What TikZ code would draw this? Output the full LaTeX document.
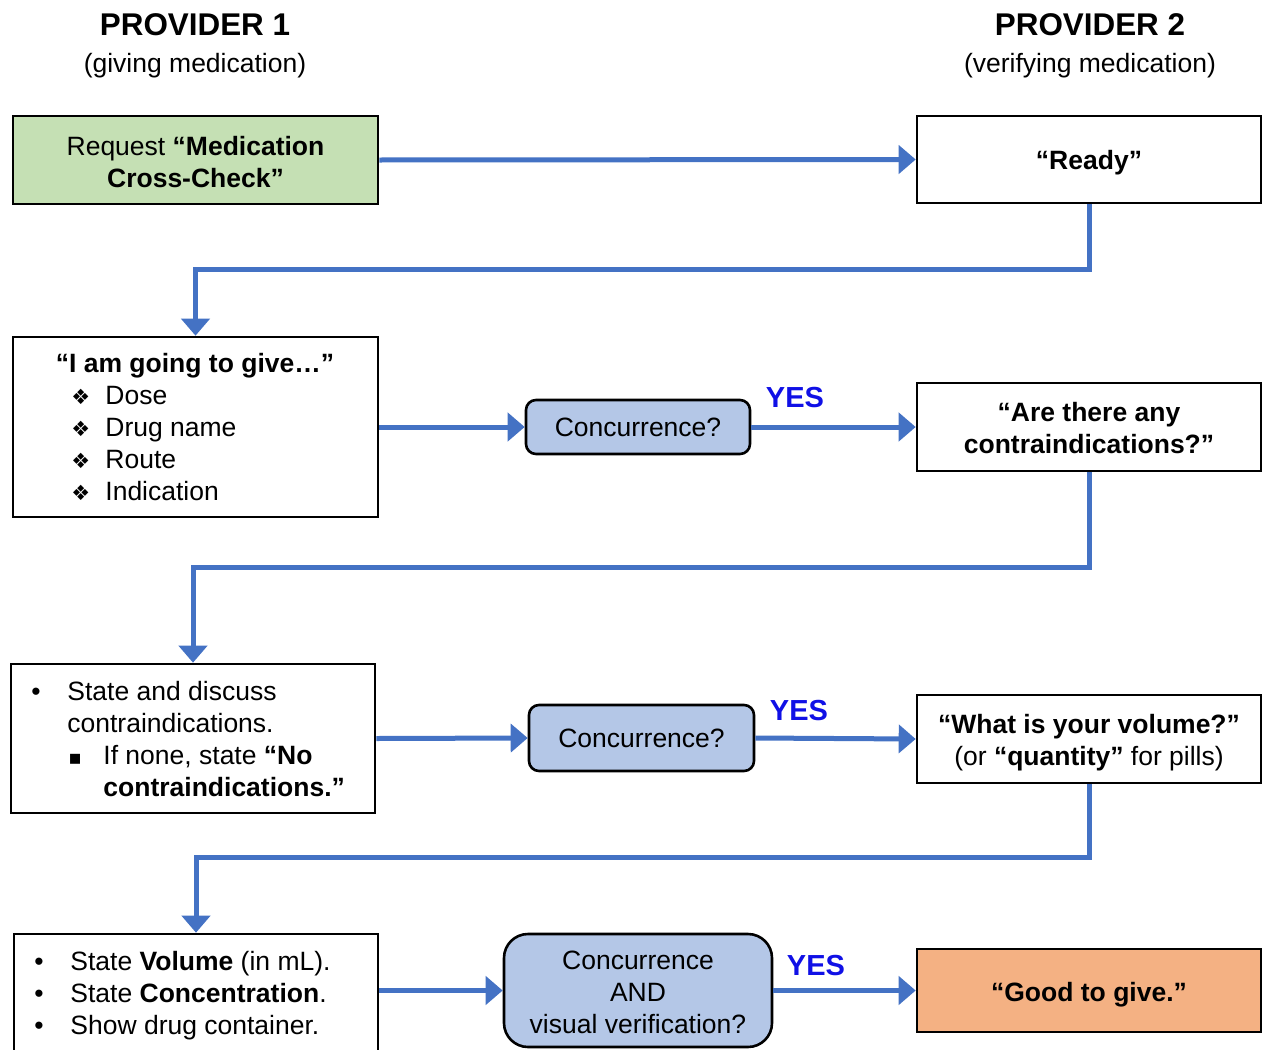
\documentclass[tikz,border=0pt]{standalone}
\usepackage{fontspec}
\setmainfont{Liberation Sans}
\newfontfamily\symbolFont{DejaVu Sans}
\usetikzlibrary{positioning,fit,arrows.meta}
\definecolor{arrowBlue}{RGB}{68,114,196}
\definecolor{requestGreen}{RGB}{197,224,180}
\definecolor{questionBlue}{RGB}{180,199,231}
\definecolor{giveOrange}{RGB}{244,177,131}
\definecolor{yesBlue}{RGB}{16,16,230}
\newcommand{\bodyFont}{\fontsize{13.25}{16}\selectfont}
\newcommand{\diamondBullet}{{\symbolFont\fontsize{10.5}{16}\selectfont ❖}}
\newcommand{\squareBullet}{{\symbolFont\fontsize{10}{16}\selectfont ▪}}
\tikzstyle{flowchart} = [x = .5pt, y = -.5pt]
\tikzstyle{plainBox} = [draw=black, line width=1.3pt, inner sep=0pt]
\tikzstyle{questionBox} = [plainBox, fill=questionBlue, rounded corners=5pt]
\tikzstyle{boxText} = [align=center, inner sep=0pt, font=\bodyFont]
\tikzstyle{flowArrow} = [color=arrowBlue, line width=2.5pt, -{Triangle[length=8.5pt, width=14pt]}]
\tikzstyle{lineText} = [anchor=base west, inner sep=0pt, font=\bodyFont]
\tikzstyle{yesText} = [text=yesBlue, font=\bfseries\fontsize{14.5}{16}\selectfont, inner sep=0pt]
\tikzstyle{titleText} = [font=\bfseries\fontsize{15.7}{18}\selectfont, inner sep=0pt]
\newcommand{\yesLabel}[2]{\node [yesText] (#1) at (#2) {YES};}

\begin{document}
\begin{tikzpicture}[flowchart]
      \useasboundingbox (0,0) rectangle (1263,1049);
      \clip (0,0) rectangle (1263,1049);

      % column headings
      \node [titleText] (leftTitle) at (195,25) {PROVIDER 1};
      \node [font=\bodyFont] (leftSub) at (195,66) {(giving medication)};
      \node [titleText] (rightTitle) at (1090,25) {PROVIDER 2};
      \node [font=\bodyFont] (rightSub) at (1090,66) {(verifying medication)};

      % provider 1 boxes
      \node [plainBox, fill=requestGreen, fit={(13,116) (378,204)}] (requestBox) {};
      \node [plainBox, fit={(13,337) (378,517)}] (giveBox) {};
      \node [plainBox, fit={(11,664) (375,813)}] (contraBox) {};
      \node [plainBox, fit={(14,934) (378,1064)}] (volumeBox) {};

      % provider 2 boxes
      \node [plainBox, fit={(917,116) (1261,203)}] (readyBox) {};
      \node [plainBox, fit={(917,383) (1261,471)}] (askContraBox) {};
      \node [plainBox, fit={(917,695) (1261,783)}] (askVolumeBox) {};
      \node [plainBox, fill=giveOrange, fit={(917,949) (1261,1032)}] (goodBox) {};

      % concurrence checks
      \node [questionBox, fit={(526,400) (750,454)}] (checkOne) {};
      \node [questionBox, fit={(529,705) (754,771)}] (checkTwo) {};
      \node [questionBox, rounded corners=12pt, fit={(504,934) (772,1047)}] (checkThree) {};

      % centred texts
      \node [boxText] (requestText) at ([yshift=-1pt]requestBox.center)
        {Request \textbf{“Medication}\\\textbf{Cross-Check”}};
      \node [boxText] (readyText) at ([yshift=-1.5pt]readyBox.center) {\textbf{“Ready”}};
      \node [boxText] (askContraText) at ([yshift=-.5pt]askContraBox.center)
        {\textbf{“Are there any}\\\textbf{contraindications?”}};
      \node [boxText] (askVolumeText) at ([yshift=-2pt]askVolumeBox.center)
        {\textbf{“What is your volume?”}\\(or \textbf{“quantity”} for pills)};
      \node [boxText] (goodText) at ([yshift=-2pt]goodBox.center) {\textbf{“Good to give.”}};
      \node [boxText] (checkOneText) at (checkOne.center) {Concurrence?};
      \node [boxText] (checkTwoText) at (checkTwo.center) {Concurrence?};
      \node [boxText] (checkThreeText) at ([yshift=-1pt]checkThree.center)
        {Concurrence\\AND\\visual verification?};

      % text inside the list boxes
      \node [font=\bodyFont\bfseries, anchor=base, inner sep=0pt] (giveTitle) at (195,372) {“I am going to give…”};
      \node [lineText] (doseBullet) at (71,404) {\diamondBullet};
      \node [lineText] (doseText) at (105,404) {Dose};
      \node [lineText] (drugBullet) at (71,436) {\diamondBullet};
      \node [lineText] (drugText) at (105,436) {Drug name};
      \node [lineText] (routeBullet) at (71,468) {\diamondBullet};
      \node [lineText] (routeText) at (105,468) {Route};
      \node [lineText] (indBullet) at (71,500) {\diamondBullet};
      \node [lineText] (indText) at (105,500) {Indication};

      \node [lineText] (discussBullet) at (31,700) {•};
      \node [lineText] (discussText) at (67,700) {State and discuss};
      \node [lineText] (discussMore) at (67,732) {contraindications.};
      \node [lineText] (noneBullet) at (68,764) {\squareBullet};
      \node [lineText] (noneText) at (103,764) {If none, state \textbf{“No}};
      \node [lineText] (noneMore) at (103,796) {\textbf{contraindications.”}};

      \node [lineText] (volumeBullet) at (34,970) {•};
      \node [lineText] (volumeText) at (70,970) {State \textbf{Volume} (in mL).};
      \node [lineText] (concBullet) at (34,1002) {•};
      \node [lineText] (concText) at (70,1002) {State \textbf{Concentration}.};
      \node [lineText] (showBullet) at (34,1034) {•};
      \node [lineText] (showText) at (70,1034) {Show drug container.};

      % YES labels
      \yesLabel{yesOne}{795,398}
      \yesLabel{yesTwo}{799,711}
      \yesLabel{yesThree}{816,966}

      % connectors
      \coordinate (bendOne) at (0,269);
      \coordinate (bendTwo) at (0,567);
      \coordinate (bendThree) at (0,857);
      \draw [flowArrow] (requestBox.east) -- (readyBox.west);
      \draw [flowArrow] (readyBox.south) -- (readyBox.south |- bendOne) -- (giveBox.north |- bendOne) -- (giveBox.north);
      \draw [flowArrow] (giveBox.east) -- (checkOne.west);
      \draw [flowArrow] (checkOne.east) -- (askContraBox.west);
      \draw [flowArrow] (askContraBox.south) -- (askContraBox.south |- bendTwo) -- (contraBox.north |- bendTwo) -- (contraBox.north);
      \draw [flowArrow] (contraBox.east) -- (checkTwo.west);
      \draw [flowArrow] (checkTwo.east) -- (askVolumeBox.west);
      \draw [flowArrow] (askVolumeBox.south) -- (askVolumeBox.south |- bendThree) -- (volumeBox.north |- bendThree) -- (volumeBox.north);
      \draw [flowArrow] (volumeBox.east |- checkThree.west) -- (checkThree.west);
      \draw [flowArrow] (checkThree.east) -- (goodBox.west);
\end{tikzpicture}
\end{document}
